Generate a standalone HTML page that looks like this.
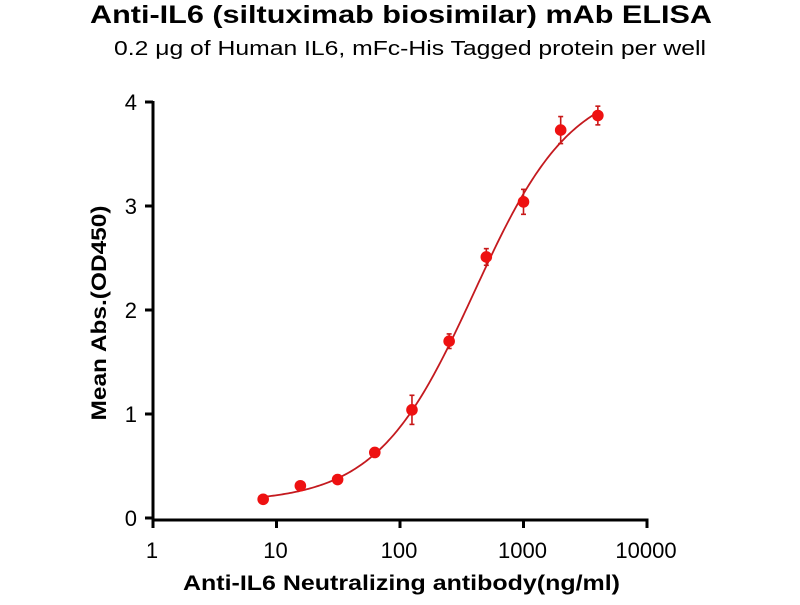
<!DOCTYPE html>
<html><head><meta charset="utf-8"><style>
body{margin:0;background:#fff;}
svg text{font-family:"Liberation Sans",Arial,sans-serif;}
</style></head><body>
<svg id="chart" width="800" height="600">
<text x="90" y="23" textLength="622" lengthAdjust="spacingAndGlyphs" font-size="25" font-weight="bold">Anti-IL6 (siltuximab biosimilar) mAb ELISA</text>
<text x="114" y="55" textLength="592" lengthAdjust="spacingAndGlyphs" font-size="20">0.2 μg of Human IL6, mFc-His Tagged protein per well</text>
<text transform="translate(106,313) rotate(-90)" text-anchor="middle" textLength="215" lengthAdjust="spacingAndGlyphs" font-size="21" font-weight="bold">Mean Abs.(OD450)</text>
<text x="183" y="590" textLength="437" lengthAdjust="spacingAndGlyphs" font-size="21" font-weight="bold">Anti-IL6 Neutralizing antibody(ng/ml)</text>
<g id="axes"></g><g id="marks"></g>
</svg>
<script>
const concentrations=[7.8,15.6,31.25,62.5,125,250,500,1000,2000,4000];
const meanAbs=[0.18,0.31,0.37,0.63,1.04,1.70,2.51,3.04,3.73,3.87];
const errorSD=[0.02,0.02,0.02,0.02,0.14,0.07,0.08,0.12,0.13,0.09];
const fitParams=[0.15,4.2,400,1.1]; // bottom, top, EC50, hill
const xTicks=[1,10,100,1000,10000];
const xTickLabels=["1","10","100","1000","10000"];
const yTicks=[0,1,2,3,4];
const yTickLabels=["0","1","2","3","4"];
const NS="http://www.w3.org/2000/svg";
const X=v=>153+123.5*Math.log10(v);
const Y=v=>518-104*v;
function mk(tag,attrs,parent){const e=document.createElementNS(NS,tag);for(const k in attrs)e.setAttribute(k,attrs[k]);parent.appendChild(e);return e;}
const ax=document.getElementById('axes'),mg=document.getElementById('marks');
let e=mk('line',{x1:153,y1:Y(4)-1,x2:153,y2:521,stroke:'#000','stroke-width':3},ax);

e=mk('line',{x1:151.5,y1:520,x2:X(10000)+1.5,y2:520,stroke:'#000','stroke-width':3},ax);

xTicks.forEach((t,i)=>{
 let l=mk('line',{x1:X(t),y1:520,x2:X(t),y2:528,stroke:'#000','stroke-width':3},ax);
 
 let tx=mk('text',{x:X(t)-1,y:558,'text-anchor':'middle','font-size':22},ax);tx.textContent=xTickLabels[i];
 
});
yTicks.forEach((t,i)=>{
 let l=mk('line',{x1:145,y1:Y(t),x2:153,y2:Y(t),stroke:'#000','stroke-width':3},ax);
 
 let tx=mk('text',{x:137,y:Y(t)+8,'text-anchor':'end','font-size':22},ax);tx.textContent=yTickLabels[i];
 
});
const [b,tp,ec,h]=fitParams;
const f=x=>b+(tp-b)/(1+Math.pow(ec/x,h));
let d='';const lo=Math.log10(concentrations[0]),hi=Math.log10(concentrations[concentrations.length-1]);
for(let i=0;i<=200;i++){const lx=lo+(hi-lo)*i/200,x=Math.pow(10,lx);d+=(i?'L':'M')+X(x).toFixed(2)+','+Y(f(x)).toFixed(2);}
e=mk('path',{d:d,fill:'none',stroke:'#c41a1f','stroke-width':1.8},mg);

concentrations.forEach((c,i)=>{
 const x=X(c),y=Y(meanAbs[i]),s=errorSD[i];
 let g=mk('g',{},mg);
 
 mk('line',{x1:x,y1:Y(meanAbs[i]+s),x2:x,y2:Y(meanAbs[i]-s),stroke:'#c81818','stroke-width':1.6},g);
 mk('line',{x1:x-2.5,y1:Y(meanAbs[i]+s),x2:x+2.5,y2:Y(meanAbs[i]+s),stroke:'#c81818','stroke-width':1.6},g);
 mk('line',{x1:x-2.5,y1:Y(meanAbs[i]-s),x2:x+2.5,y2:Y(meanAbs[i]-s),stroke:'#c81818','stroke-width':1.6},g);
 mk('circle',{cx:x,cy:y,r:5.8,fill:'#ee1111'},g);
});
</script>
</body></html>
